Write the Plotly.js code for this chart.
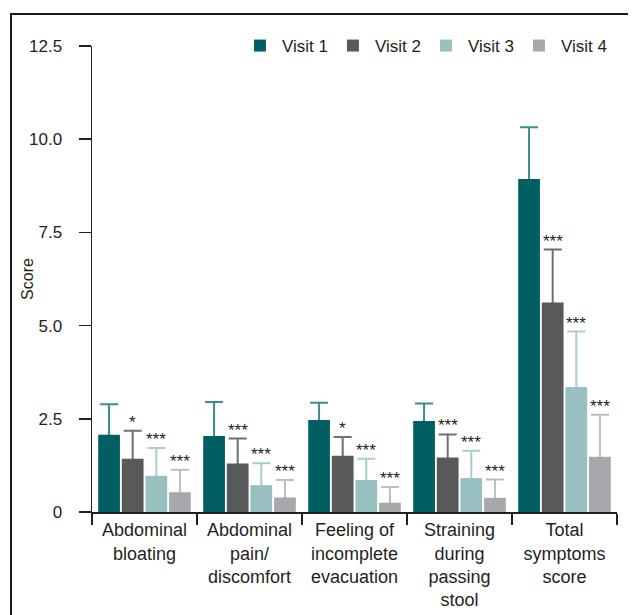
<!DOCTYPE html>
<html>
<head>
<meta charset="utf-8">
<script src="https://cdn.plot.ly/plotly-3.0.1.min.js"></script>
<style>
  html, body { margin: 0; padding: 0; background: #ffffff; }
  #wrap { position: relative; width: 636px; height: 615px; overflow: hidden; }
  #chart { width: 636px; height: 615px; }
  #frame { position: absolute; left: 10px; top: 13px; width: 616px; height: 700px;
           border-top: 2px solid #1a1a1a; border-left: 2px solid #1a1a1a; pointer-events: none; }
</style>
</head>
<body>
<div id="wrap">
  <div id="chart"></div>
  <div id="frame"></div>
</div>
<script>
// Categories (x-axis tick labels)
var categories = [
  "Abdominal<br>bloating",
  "Abdominal<br>pain/<br>discomfort",
  "Feeling of<br>incomplete<br>evacuation",
  "Straining<br>during<br>passing<br>stool",
  "Total<br>symptoms<br>score"
];

var seriesNames = ["Visit 1", "Visit 2", "Visit 3", "Visit 4"];

// Mean scores
var visit1 = [2.07, 2.04, 2.47, 2.44, 8.93];
var visit2 = [1.43, 1.30, 1.51, 1.46, 5.62];
var visit3 = [0.97, 0.72, 0.86, 0.91, 3.35];
var visit4 = [0.53, 0.39, 0.25, 0.38, 1.48];

// Upper error (SD) above each mean
var err1 = [0.82, 0.91, 0.46, 0.47, 1.39];
var err2 = [0.75, 0.67, 0.50, 0.62, 1.42];
var err3 = [0.75, 0.59, 0.57, 0.73, 1.49];
var err4 = [0.60, 0.47, 0.42, 0.49, 1.13];

// Significance markers (vs Visit 1)
var sig2 = ["*", "***", "*", "***", "***"];
var sig3 = ["***", "***", "***", "***", "***"];
var sig4 = ["***", "***", "***", "***", "***"];

var barColors = ["#015e62", "#58595b", "#99c0c1", "#a7a8ab"];
var errColors = ["#3d8b8d", "#6e6f71", "#a9cdcd", "#bdbec0"];

var values = [visit1, visit2, visit3, visit4];
var errs = [err1, err2, err3, err4];
var sigs = [null, sig2, sig3, sig4];

var traces = [];
// Error-bar carriers (transparent bars, drawn first so the visible bars hide the lower cap)
values.forEach(function (v, i) {
  traces.push({
    type: "bar",
    name: seriesNames[i] + " SD",
    x: categories,
    y: v,
    offsetgroup: "g" + i,
    showlegend: false,
    marker: { color: "rgba(0,0,0,0)", line: { width: 0 } },
    error_y: {
      type: "data",
      symmetric: false,
      array: errs[i],
      arrayminus: v.map(function () { return 0.1; }),
      color: errColors[i],
      thickness: 2,
      width: 9
    },
    hoverinfo: "skip"
  });
});
// Visible bars
values.forEach(function (v, i) {
  traces.push({
    type: "bar",
    name: seriesNames[i],
    x: categories,
    y: v,
    offsetgroup: "g" + i,
    marker: { color: barColors[i], line: { width: 0 } },
    hoverinfo: "skip"
  });
});

// Layout constants for placing the significance text over each bar of a group
var plotW = 525, nCat = categories.length, bargap = 0.1, nSeries = 4;
var slot = (plotW / nCat) * (1 - bargap) / nSeries;

var annotations = [];
sigs.forEach(function (s, i) {
  if (!s) return;
  s.forEach(function (txt, j) {
    annotations.push({
      x: categories[j],
      y: values[i][j] + errs[i][j],
      xref: "x", yref: "y",
      text: txt,
      showarrow: false,
      xanchor: "center", yanchor: "bottom",
      xshift: (i - (nSeries - 1) / 2) * slot,
      yshift: -3,
      font: { family: "Liberation Sans, Arial, sans-serif", size: 17, color: "#231f20" }
    });
  });
});

// Y-axis title placed as a rotated annotation
annotations.push({
  xref: "paper", yref: "paper",
  x: -0.124, y: 0.5,
  xanchor: "center", yanchor: "middle",
  text: "Score", textangle: -90, showarrow: false,
  font: { family: "Liberation Sans, Arial, sans-serif", size: 16, color: "#231f20" }
});

var layout = {
  width: 636,
  height: 615,
  margin: { l: 92, r: 19, t: 46, b: 103, autoexpand: false },
  paper_bgcolor: "rgba(0,0,0,0)",
  plot_bgcolor: "#ffffff",
  font: { family: "Liberation Sans, Arial, sans-serif", size: 17, color: "#231f20" },
  barmode: "group",
  bargap: bargap,
  bargroupgap: 0.08,
  showlegend: true,
  legend: {
    orientation: "h",
    x: 0.278, xanchor: "left",
    y: 1.0, yanchor: "middle",
    itemwidth: 34,
    entrywidth: 44,
    entrywidthmode: "pixels",
    font: { size: 17, color: "#231f20" },
    bgcolor: "rgba(0,0,0,0)",
    traceorder: "normal"
  },
  xaxis: {
    type: "category",
    showline: true, linecolor: "#231f20", linewidth: 1.5,
    ticks: "outside", tickson: "boundaries", ticklen: 11, tickwidth: 1.5, tickcolor: "#231f20",
    ticklabelstandoff: 1,
    showgrid: false, zeroline: false,
    tickfont: { size: 18, color: "#231f20" },
    automargin: false,
    fixedrange: true
  },
  yaxis: {
    range: [0, 12.5],
    tickvals: [0, 2.5, 5, 7.5, 10, 12.5],
    ticktext: ["0", "2.5", "5.0", "7.5", "10.0", "12.5"],
    showline: true, linecolor: "#231f20", linewidth: 1.5,
    ticks: "outside", ticklen: 12, tickwidth: 1.5, tickcolor: "#231f20",
    ticklabelstandoff: 13,
    showgrid: false, zeroline: false,
    tickfont: { size: 17, color: "#231f20" },
    automargin: false,
    fixedrange: true
  },
  annotations: annotations
};

Plotly.newPlot("chart", traces, layout, { displayModeBar: false, staticPlot: true });
</script>
</body>
</html>
